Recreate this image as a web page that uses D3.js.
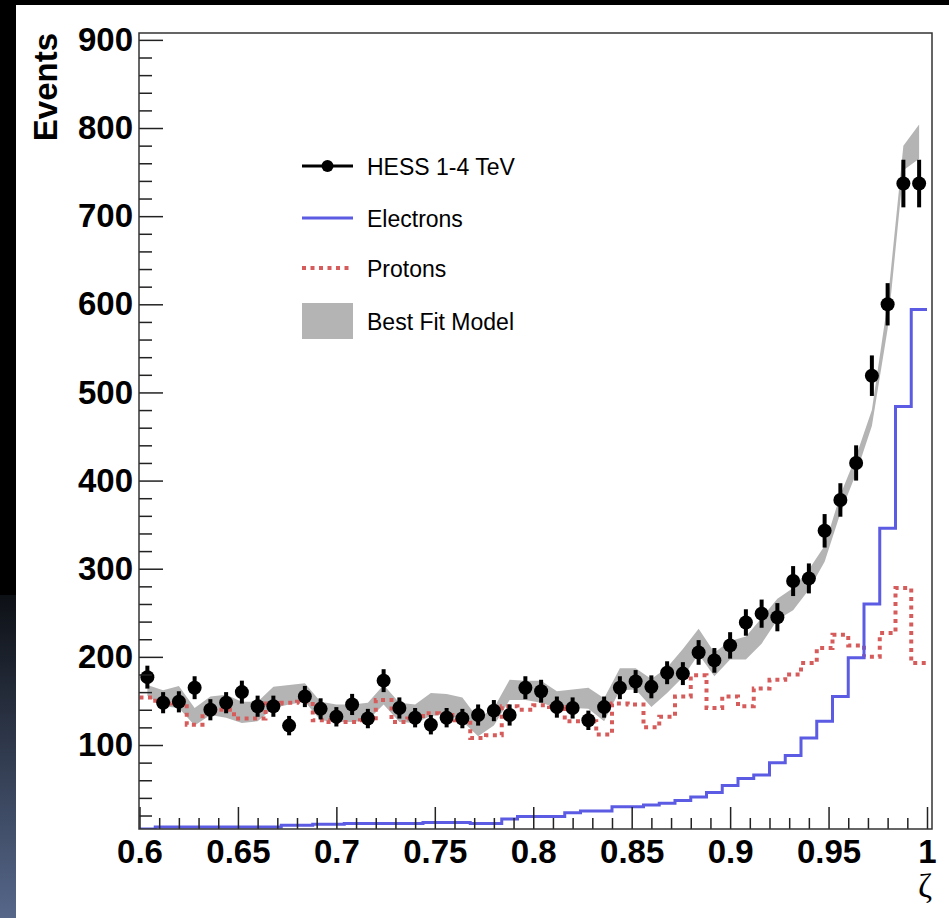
<!DOCTYPE html>
<html>
<head>
<meta charset="utf-8">
<script src="https://cdn.jsdelivr.net/npm/d3@7"></script>
<style>
  body { margin: 0; background: #000; }
  svg { display: block; }
</style>
</head>
<body>
<div class="canvas"></div>
<script>
// bin centres in zeta (bin width 0.008)
const zeta = [0.604, 0.612, 0.620, 0.628, 0.636, 0.644, 0.652, 0.660, 0.668, 0.676,
  0.684, 0.692, 0.700, 0.708, 0.716, 0.724, 0.732, 0.740, 0.748, 0.756,
  0.764, 0.772, 0.780, 0.788, 0.796, 0.804, 0.812, 0.820, 0.828, 0.836,
  0.844, 0.852, 0.860, 0.868, 0.876, 0.884, 0.892, 0.900, 0.908, 0.916,
  0.924, 0.932, 0.940, 0.948, 0.956, 0.964, 0.972, 0.980, 0.988, 0.996];
const binWidth = 0.008;

// HESS 1-4 TeV data points and errors
const hess = [177, 148, 149, 165, 140, 148, 160, 144, 144, 122,
  155, 141, 132, 146, 130, 173, 142, 131, 123, 131,
  130, 134, 139, 134, 165, 161, 143, 142, 128, 143,
  165, 172, 166, 182, 181, 205, 196, 213, 239, 249,
  245, 286, 289, 343, 378, 420, 519, 600, 737, 737];
const hessErr = [13, 12, 12, 13, 12, 12, 13, 12, 12, 11,
  12, 12, 11, 12, 11, 13, 12, 11, 11, 11,
  11, 12, 12, 12, 13, 13, 12, 12, 11, 12,
  13, 13, 13, 13, 13, 14, 14, 15, 15, 16,
  16, 17, 17, 19, 19, 20, 23, 24, 27, 27];

// simulated electrons (histogram)
const electrons = [4, 7, 7, 7, 7, 7, 7, 7, 7, 9,
  9, 10, 10, 11, 11, 11, 11, 11, 12, 12,
  12, 11, 11, 16, 19, 19, 19, 23, 25, 25,
  30, 30, 32, 34, 37, 41, 46, 54, 62, 66,
  80, 88, 108, 127, 155, 199, 260, 346, 484, 594];

// simulated protons (histogram)
const protons = [154, 147, 150, 123, 138, 140, 130, 130, 147, 148,
  149, 128, 126, 126, 128, 151, 126, 130, 136, 134,
  128, 108, 111, 144, 140, 145, 143, 127, 127, 112,
  147, 146, 120, 132, 155, 179, 142, 155, 144, 164,
  174, 180, 193, 210, 225, 213, 200, 227, 278, 193];

// best fit model band
const fitLow = [156, 144, 142, 122, 134, 131, 125, 127, 142, 146,
  149, 128, 126, 126, 128, 146, 126, 125, 133, 135,
  127, 110, 122, 151, 151, 148, 142, 142, 141, 127,
  162, 163, 143, 159, 177, 203, 178, 197, 197, 215,
  242, 253, 276, 308, 363, 408, 462, 572, 752, 765];
const fitHigh = [168, 162, 167, 142, 155, 157, 149, 149, 166, 168,
  170, 149, 146, 146, 148, 168, 148, 146, 159, 158,
  154, 130, 142, 174, 173, 173, 161, 163, 165, 153,
  187, 187, 175, 188, 209, 232, 205, 218, 223, 244,
  266, 278, 299, 326, 384, 428, 480, 602, 780, 804];

// axis ticks
const xTicks = [0.6, 0.65, 0.7, 0.75, 0.8, 0.85, 0.9, 0.95, 1.0];
const xTickLabels = ['0.6', '0.65', '0.7', '0.75', '0.8', '0.85', '0.9', '0.95', '1'];
const yTicks = [100, 200, 300, 400, 500, 600, 700, 800, 900];
const yTickLabels = ['100', '200', '300', '400', '500', '600', '700', '800', '900'];

const legendItems = ['HESS 1-4 TeV', 'Electrons', 'Protons', 'Best Fit Model'];

const width = 949;
const height = 918;
const frame = {left: 139, right: 932, top: 33, bottom: 829};

const svg = d3.select('.canvas')
  .append('svg')
    .attr('width', width)
    .attr('height', height);

//slide background
const defs = svg.append('defs');
const grad = defs.append('linearGradient')
  .attr('id', 'side')
  .attr('x1', 0).attr('y1', 0).attr('x2', 0).attr('y2', 1);
grad.append('stop').attr('offset', '0%').attr('stop-color', '#0d1015');
grad.append('stop').attr('offset', '100%').attr('stop-color', '#56678a');

svg.append('rect').attr('width', width).attr('height', height).attr('fill', '#000');
svg.append('rect')
  .attr('x', 0).attr('y', 595).attr('width', 16).attr('height', height - 595)
  .attr('fill', 'url(#side)');
svg.append('rect')
  .attr('x', 16).attr('y', 5).attr('width', width - 16).attr('height', height - 5)
  .attr('fill', '#fff');

defs.append('clipPath').attr('id', 'plotclip')
  .append('rect')
    .attr('x', frame.left).attr('y', frame.top)
    .attr('width', frame.right - frame.left)
    .attr('height', frame.bottom - frame.top);

//scales
const x = d3.scaleLinear()
  .domain([0.59975, 1.00254])
  .range([frame.left, frame.right]);
const yMin = 4.7;
const y = d3.scaleLinear()
  .domain([yMin, 907.8])
  .range([frame.bottom, frame.top]);

const plot = svg.append('g').attr('clip-path', 'url(#plotclip)');

//best fit band
const band = d3.area()
  .x((d, i) => x(zeta[i]))
  .y0((d, i) => y(fitLow[i]))
  .y1((d, i) => y(fitHigh[i]));
plot.append('path')
  .datum(zeta)
  .attr('d', band)
  .attr('fill', '#b4b4b4');

//histogram outlines
const stepPoints = (vals) => {
  const pts = [];
  vals.forEach((v, i) => {
    const vv = Math.max(v, yMin);
    pts.push([zeta[i] - binWidth / 2, vv]);
    pts.push([zeta[i] + binWidth / 2, vv]);
  });
  return pts;
};
const step = d3.line()
  .x(d => x(d[0]))
  .y(d => y(d[1]));

plot.append('path')
  .datum(stepPoints(protons))
  .attr('d', step)
  .attr('fill', 'none')
  .attr('stroke', '#d65c5c')
  .attr('stroke-width', 4)
  .attr('stroke-dasharray', '4,4.5');

plot.append('path')
  .datum(stepPoints(electrons))
  .attr('d', step)
  .attr('fill', 'none')
  .attr('stroke', '#5b5be3')
  .attr('stroke-width', 3);

//data points
const pts = plot.selectAll('g.pt')
  .data(hess)
  .enter()
  .append('g')
    .attr('class', 'pt');
pts.append('line')
  .attr('x1', (d, i) => x(zeta[i]))
  .attr('x2', (d, i) => x(zeta[i]))
  .attr('y1', (d, i) => y(d - hessErr[i]))
  .attr('y2', (d, i) => y(d + hessErr[i]))
  .attr('stroke', '#000')
  .attr('stroke-width', 4);
pts.append('circle')
  .attr('cx', (d, i) => x(zeta[i]))
  .attr('cy', d => y(d))
  .attr('r', 7)
  .attr('fill', '#000');

//axes (ROOT style: ticks inside)
const font = '"Liberation Sans", Arial, Helvetica, sans-serif';
const xAxisGroup = svg.append('g').attr('transform', `translate(0, ${frame.bottom})`);
const yAxisGroup = svg.append('g').attr('transform', `translate(${frame.left}, 0)`);

const xMinor = d3.range(60, 101).map(v => v / 100).filter(v => !xTicks.some(t => Math.abs(t - v) < 1e-9));
const yMinor = d3.range(20, 900, 20).filter(v => v % 100 !== 0);

xAxisGroup.call(d3.axisBottom(x).tickValues(xMinor).tickSize(-11).tickSizeOuter(0).tickFormat(''));
xAxisGroup.call(g => g.selectAll('.domain').remove());
const xMajor = svg.append('g').attr('transform', `translate(0, ${frame.bottom})`);
xMajor.call(d3.axisBottom(x)
  .tickValues(xTicks)
  .tickSize(-22)
  .tickSizeOuter(0)
  .tickPadding(11)
  .tickFormat((d, i) => xTickLabels[i]));
xMajor.select('.domain').remove();

yAxisGroup.call(d3.axisLeft(y).tickValues(yMinor).tickSize(-13).tickSizeOuter(0).tickFormat(''));
yAxisGroup.call(g => g.selectAll('.domain').remove());
const yMajor = svg.append('g').attr('transform', `translate(${frame.left}, 0)`);
yMajor.call(d3.axisLeft(y)
  .tickValues(yTicks)
  .tickSize(-24)
  .tickSizeOuter(0)
  .tickPadding(6)
  .tickFormat((d, i) => yTickLabels[i]));
yMajor.select('.domain').remove();

svg.selectAll('.tick line').attr('stroke', '#222').attr('stroke-width', 1.5);
svg.selectAll('.tick text')
  .attr('fill', '#000')
  .style('font-family', font)
  .style('font-weight', 'bold')
  .style('font-size', '33px');

//frame
svg.append('rect')
  .attr('x', frame.left).attr('y', frame.top)
  .attr('width', frame.right - frame.left)
  .attr('height', frame.bottom - frame.top)
  .attr('fill', 'none')
  .attr('stroke', '#333')
  .attr('stroke-width', 1.5);

//axis titles
svg.append('text')
  .attr('transform', 'translate(57, 33) rotate(-90)')
  .attr('text-anchor', 'end')
  .style('font-family', font)
  .style('font-weight', 'bold')
  .style('font-size', '33px')
  .text('Events');
svg.append('text')
  .attr('x', 932)
  .attr('y', 897)
  .attr('text-anchor', 'end')
  .style('font-family', '"Liberation Serif", "DejaVu Serif", serif')
  .style('font-size', '34px')
  .text('ζ');

//legend
const legend = svg.append('g');
const lx0 = 302, lx1 = 353, tx = 367;
const rowY = [166, 218, 268, 321];

legend.append('line')
  .attr('x1', lx0).attr('x2', lx1).attr('y1', rowY[0]).attr('y2', rowY[0])
  .attr('stroke', '#000').attr('stroke-width', 3);
legend.append('circle')
  .attr('cx', (lx0 + lx1) / 2).attr('cy', rowY[0]).attr('r', 6).attr('fill', '#000');
legend.append('line')
  .attr('x1', lx0).attr('x2', lx1).attr('y1', rowY[1]).attr('y2', rowY[1])
  .attr('stroke', '#5b5be3').attr('stroke-width', 3);
legend.append('line')
  .attr('x1', lx0).attr('x2', lx1).attr('y1', rowY[2]).attr('y2', rowY[2])
  .attr('stroke', '#d65c5c').attr('stroke-width', 4).attr('stroke-dasharray', '4,4.5');
legend.append('rect')
  .attr('x', lx0).attr('y', 303).attr('width', lx1 - lx0).attr('height', 36)
  .attr('fill', '#b4b4b4');

legend.selectAll('text')
  .data(legendItems)
  .enter()
  .append('text')
    .attr('x', tx)
    .attr('y', (d, i) => rowY[i] + 8.5)
    .style('font-family', font)
    .style('font-size', '23px')
    .attr('fill', '#000')
    .text(d => d);
</script>
</body>
</html>
